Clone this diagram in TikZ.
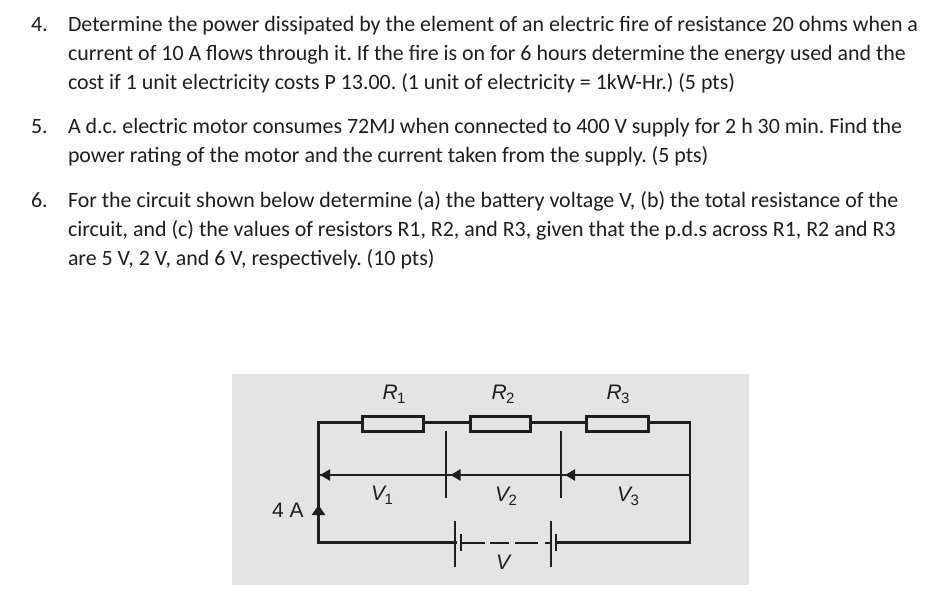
\documentclass[tikz,border=0pt]{standalone}
\usepackage{fontspec}
\setmainfont{Carlito}
\newfontfamily\lblfont{Liberation Sans}
\usetikzlibrary{arrows.meta}
\definecolor{panel}{HTML}{E4E4E4}
\definecolor{ink}{HTML}{1E1E1E}
\definecolor{wirec}{HTML}{1E1E1E}
\newcommand{\symsub}[2]{{\itshape #1}\kern-0.5pt\raisebox{-4pt}{\fontsize{15}{15}\selectfont #2}}
\tikzset{
  x=1pt,y=-1pt,
  txt/.style={anchor=base west,inner sep=0pt,outer sep=0pt,text=ink,font=\fontsize{21.9}{25}\selectfont\frenchspacing},
  lbl/.style={inner sep=0pt,outer sep=0pt,text=wirec,font=\lblfont\fontsize{21}{24}\selectfont},
  wire/.style={draw=wirec,line width=2.5pt,line cap=rect},
  res/.style={draw=wirec,line width=2.8pt,fill=panel,minimum height=15pt,inner sep=0pt,outer sep=0pt},
  plate/.style={draw=wirec,line width=2.3pt},
  meas/.style={draw=wirec,line width=2.3pt},
  tip/.style={-{Triangle[length=10pt,width=11pt]}},
  tipup/.style={-{Triangle[length=10pt,width=13pt]}}
}
\begin{document}
\begin{tikzpicture}
\useasboundingbox (0,0) rectangle (942,612);
\fill[white] (0,0) rectangle (942,612);
% text
\node[txt] (n4) at (31,31.7) {4.};
\node[txt] (l1) at (68,31.7) {Determine the power dissipated by the element of an electric fire of resistance 20 ohms when a};
\node[txt] (l2) at (68,60.7) {current of 10 A flows through it. If the fire is on for 6 hours determine the energy used and the};
\node[txt] (l3) at (68,89.7) {cost if 1 unit electricity costs P 13.00. (1 unit of electricity = 1kW-Hr.) (5 pts)};
\node[txt] (n5) at (31,133.7) {5.};
\node[txt] (l4) at (68,133.7) {A d.c. electric motor consumes 72MJ when connected to 400 V supply for 2 h 30 min. Find the};
\node[txt] (l5) at (68,162.7) {power rating of the motor and the current taken from the supply. (5 pts)};
\node[txt] (n6) at (31,207.7) {6.};
\node[txt] (l6) at (68,207.7) {For the circuit shown below determine (a) the battery voltage V, (b) the total resistance of the};
\node[txt] (l7) at (68,236.7) {circuit, and (c) the values of resistors R1, R2, and R3, given that the p.d.s across R1, R2 and R3};
\node[txt] (l8) at (68,265.7) {are 5 V, 2 V, and 6 V, respectively. (10 pts)};
% panel
\fill[panel] (232,373.5) rectangle (749,585);
% junctions
\coordinate (tl) at (318.5,422.7);
\coordinate (tr) at (690,422.7);
\coordinate (bl) at (318.5,542.3);
\coordinate (br) at (690,542.3);
\coordinate (ml) at (320,475);
\coordinate (mr) at (690,475);
\coordinate (t1a) at (446,431);
\coordinate (t1b) at (446,498);
\coordinate (t2a) at (561,431);
\coordinate (t2b) at (561,498);
\coordinate (m1) at (450.5,475);
\coordinate (m2) at (565,475);
\coordinate (up) at (318.5,505);
% battery plates
\coordinate (b1a) at (455.3,521);
\coordinate (b1b) at (455.3,567);
\coordinate (b1) at (455.3,542.3);
\coordinate (s1a) at (461,534);
\coordinate (s1b) at (461,551);
\coordinate (s1) at (461,542.8);
\coordinate (b2a) at (550.7,521);
\coordinate (b2b) at (550.7,567);
\coordinate (b2) at (550.7,542.8);
\coordinate (s2a) at (556,534);
\coordinate (s2b) at (556,551);
\coordinate (s2) at (556,542.3);
% wires
\draw[wire] (bl) -- (tl) -- (tr) -- (br) -- (s2);
\draw[wire] (bl) -- (b1);
\draw[plate,dash pattern=on 24pt off 5pt on 19pt off 6pt on 23pt off 7pt on 6pt off 0pt] (s1) -- (b2);
\draw[plate] (b1a) -- (b1b);
\draw[plate] (b2a) -- (b2b);
\draw[plate,line width=2.6pt] (s1a) -- (s1b);
\draw[plate,line width=2.6pt] (s2a) -- (s2b);
\draw[plate] (t1a) -- (t1b);
\draw[plate] (t2a) -- (t2b);
% resistors
\node[res,minimum width=61pt] (R1) at (392.7,424.3) {};
\node[res,minimum width=60pt] (R2) at (500.8,424.3) {};
\node[res,minimum width=62pt] (R3) at (617.8,424.3) {};
% measurement line and arrows
\draw[meas] (mr) -- (ml);
\draw[meas,tip] (m1) -- (ml);
\draw[meas,tip] (m2) -- (m1);
\draw[meas,tip] (mr) -- (m2);
\draw[wire,line cap=butt,tipup] (bl) -- (up);
% labels
\node[lbl] (lR1) at (394,394) {\symsub{R}{1}};
\node[lbl] (lR2) at (503,394) {\symsub{R}{2}};
\node[lbl] (lR3) at (618,394) {\symsub{R}{3}};
\node[lbl] (lV1) at (382,495) {\symsub{V}{1}};
\node[lbl] (lV2) at (506,496) {\symsub{V}{2}};
\node[lbl] (lV3) at (628,496) {\symsub{V}{3}};
\node[lbl] (lV) at (503,562) {\itshape V};
\node[lbl] (l4A) at (288,510.5) {4 A};
\end{tikzpicture}
\end{document}
